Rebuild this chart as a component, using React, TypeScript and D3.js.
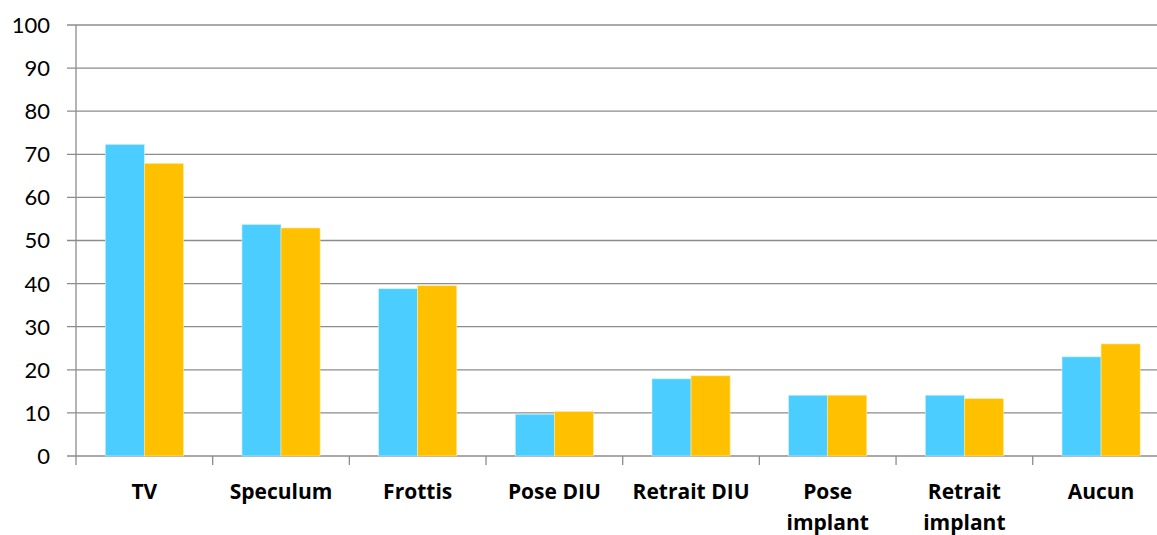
import React from "react";
import * as d3 from "d3";

const categories = ["TV", "Speculum", "Frottis", "Pose DIU", "Retrait DIU", "Pose implant", "Retrait implant", "Aucun"];
const categoryLines = [["TV"], ["Speculum"], ["Frottis"], ["Pose DIU"], ["Retrait DIU"], ["Pose", "implant"], ["Retrait", "implant"], ["Aucun"]];
const seriesA = [72.3, 53.7, 38.8, 9.7, 17.9, 14.1, 14.1, 23.0];
const seriesB = [67.9, 52.9, 39.5, 10.3, 18.6, 14.1, 13.3, 26.0];
const yTicks = [0, 10, 20, 30, 40, 50, 60, 70, 80, 90, 100];

const W = 1157;
const H = 535;
const left = 76;
const right = 1169.4;
const top = 25;
const bottom = 456;
const font = "Lato, 'Open Sans', sans-serif";
const labelFont = "'Open Sans', Lato, sans-serif";

export default function App() {
  const x = d3.scaleBand<string>().domain(categories).range([left, right]).paddingInner(0).paddingOuter(0);
  const y = d3.scaleLinear().domain([0, 100]).range([bottom, top]);
  const inner = d3.scaleBand<string>().domain(["a", "b"]).range([0, x.bandwidth()]).paddingOuter(0.75).paddingInner(0);
  const boundaries = categories.map((c) => x(c)!).concat([right]);

  return (
    <svg width={W} height={H} style={{ position: "absolute", left: 0, top: 0, display: "block" }}>
      <rect x={0} y={0} width={W} height={H} fill="#fff" />
      {yTicks.map((t) => (
        <g key={t}>
          <line x1={67} x2={right} y1={y(t)} y2={y(t)} stroke="#8c8c8c" strokeWidth={1.3} />
          <text x={50} y={y(t)} dy="0.36em" textAnchor="end" fontFamily={font} fontSize={22} fill="#000">
            {t}
          </text>
        </g>
      ))}
      <line x1={left} x2={left} y1={top} y2={bottom} stroke="#8c8c8c" strokeWidth={1.3} />
      {boundaries.map((b, i) => (
        <line key={i} x1={b} x2={b} y1={bottom} y2={bottom + 9} stroke="#8c8c8c" strokeWidth={1.3} />
      ))}
      {categories.map((c, i) => (
        <g key={c}>
          <rect
            x={x(c)! + inner("a")!}
            y={y(seriesA[i])}
            width={inner.bandwidth()}
            height={bottom - y(seriesA[i])}
            fill="#4BCEFF"
            stroke="#C8F0FF"
            strokeWidth={0.6}
          />
          <rect
            x={x(c)! + inner("b")!}
            y={y(seriesB[i])}
            width={inner.bandwidth()}
            height={bottom - y(seriesB[i])}
            fill="#FFC000"
            stroke="#FFE9A0"
            strokeWidth={0.6}
          />
          {categoryLines[i].map((ln, j) => (
            <text
              key={j}
              x={x(c)! + x.bandwidth() / 2}
              y={499 + j * 31}
              textAnchor="middle"
              fontFamily={labelFont}
              fontWeight="bold"
              fontSize={21}
              fill="#000"
            >
              {ln}
            </text>
          ))}
        </g>
      ))}
    </svg>
  );
}
